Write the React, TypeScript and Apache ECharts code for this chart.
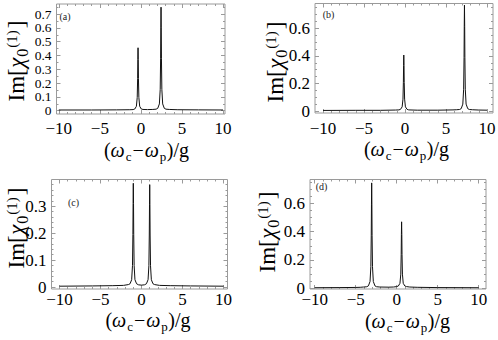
import React, { useEffect, useRef } from 'react';
import * as echarts from 'echarts';

// ---------- data ----------
const xTicks = [-10, -5, 0, 5, 10];
const xMinorTicks = [-9, -8, -7, -6, -4, -3, -2, -1, 1, 2, 3, 4, 6, 7, 8, 9];
const yTicksA = [0, 0.1, 0.2, 0.3, 0.4, 0.5, 0.6, 0.7];
const yTicksB = [0, 0.2, 0.4, 0.6];
const yTicksC = [0, 0.1, 0.2, 0.3];
const yTicksD = [0, 0.2, 0.4, 0.6];
const yMinorA = [0.05, 0.15, 0.25, 0.35, 0.45, 0.55, 0.65, 0.75];
const yMinorB = [0.05, 0.1, 0.15, 0.25, 0.3, 0.35, 0.45, 0.5, 0.55, 0.65, 0.7, 0.75];
const yMinorC = [0.02, 0.04, 0.06, 0.08, 0.12, 0.14, 0.16, 0.18, 0.22, 0.24, 0.26, 0.28, 0.32, 0.34, 0.36, 0.38];
const yMinorD = yMinorB;

const curveA: [number, number][] = [
  [-10, 0.005], [-6, 0.005], [-3, 0.006], [-1.35, 0.007], [-0.95, 0.008], [-0.75, 0.012],
  [-0.55, 0.032], [-0.45, 0.096], [-0.4, 0.233], [-0.375, 0.37], [-0.35, 0.456], [-0.325, 0.37],
  [-0.3, 0.233], [-0.25, 0.096], [-0.15, 0.032], [0.05, 0.012], [0.25, 0.009], [0.8, 0.008],
  [1.45, 0.009], [1.85, 0.011], [2.05, 0.017], [2.25, 0.049], [2.35, 0.155], [2.4, 0.38],
  [2.425, 0.6], [2.45, 0.75], [2.475, 0.6], [2.5, 0.38], [2.55, 0.155], [2.65, 0.049],
  [2.85, 0.017], [3.05, 0.011], [3.45, 0.009], [4.5, 0.007], [7, 0.006], [10, 0.005],
];

const curveB: [number, number][] = [
  [-10, 0.004], [-6, 0.005], [-3, 0.005], [-1.15, 0.007], [-0.75, 0.008], [-0.55, 0.012],
  [-0.35, 0.03], [-0.25, 0.086], [-0.2, 0.208], [-0.175, 0.33], [-0.15, 0.406], [-0.125, 0.33],
  [-0.1, 0.208], [-0.05, 0.086], [0.05, 0.03], [0.25, 0.012], [0.45, 0.008], [1.5, 0.006],
  [4, 0.006], [5.85, 0.008], [6.25, 0.009], [6.65, 0.011], [6.85, 0.017], [7.05, 0.05],
  [7.15, 0.158], [7.2, 0.39], [7.225, 0.615], [7.25, 0.768], [7.275, 0.615], [7.3, 0.39],
  [7.35, 0.158], [7.45, 0.05], [7.65, 0.017], [7.85, 0.011], [8.25, 0.009], [9, 0.007], [10, 0.006],
];

const curveC: [number, number][] = [
  [-10, 0.003], [-6, 0.004], [-3.5, 0.005], [-2.2, 0.006], [-1.6, 0.009], [-1.4, 0.012],
  [-1.2, 0.027], [-1.1, 0.08], [-1.05, 0.195], [-1.025, 0.31], [-1, 0.385], [-0.975, 0.31],
  [-0.95, 0.195], [-0.9, 0.08], [-0.8, 0.027], [-0.6, 0.012], [-0.35, 0.008], [0, 0.007],
  [0.35, 0.008], [0.6, 0.012], [0.8, 0.027], [0.9, 0.079], [0.95, 0.193], [0.975, 0.305],
  [1, 0.38], [1.025, 0.305], [1.05, 0.193], [1.1, 0.079], [1.2, 0.027], [1.4, 0.012],
  [1.6, 0.009], [2.2, 0.006], [3.5, 0.005], [6, 0.004], [10, 0.003],
];

const curveD: [number, number][] = [
  [-10, 0.004], [-7, 0.005], [-5, 0.006], [-4.45, 0.007], [-4.05, 0.009], [-3.65, 0.011],
  [-3.45, 0.017], [-3.25, 0.048], [-3.15, 0.153], [-3.1, 0.375], [-3.075, 0.595], [-3.05, 0.745],
  [-3.025, 0.595], [-3, 0.375], [-2.95, 0.153], [-2.85, 0.048], [-2.65, 0.017], [-2.45, 0.011],
  [-2.05, 0.009], [-1, 0.008], [-0.4, 0.009], [0.0, 0.012], [0.2, 0.016], [0.4, 0.035],
  [0.5, 0.1], [0.55, 0.24], [0.575, 0.38], [0.6, 0.47], [0.625, 0.38], [0.65, 0.24],
  [0.7, 0.1], [0.8, 0.035], [1.0, 0.016], [1.2, 0.012], [1.6, 0.009], [2.5, 0.007], [5, 0.005], [10, 0.004],
];

// ---------- layout ----------
const FONT = 'Liberation Serif';
const FRAME = '#9a9a9a';

type Panel = {
  left: number; top: number; width: number; height: number;
  xMin: number; xMax: number; yMin: number; yMax: number;
  yTicks: number[]; yMinor: number[]; data: [number, number][];
  yLabelSize: number; xLabelY: number;
  tag: string; tagX: number; tagY: number;
  xtX: number; xtY: number; ytX: number; ytY: number;
};

const panels: Panel[] = [
  { left: 56.5, top: 4, width: 168.5, height: 110, xMin: -10.28, xMax: 10.24, yMin: -0.024, yMax: 0.773,
    yTicks: yTicksA, yMinor: yMinorA, data: curveA, yLabelSize: 13.5, xLabelY: 128.5, tag: '(a)', tagX: 65, tagY: 16,
    xtX: 146.5, xtY: 157, ytX: 24, ytY: 61 },
  { left: 315, top: 3.5, width: 178, height: 109.5, xMin: -10.98, xMax: 10.73, yMin: -0.0145, yMax: 0.78,
    yTicks: yTicksB, yMinor: yMinorB, data: curveB, yLabelSize: 17, xLabelY: 128, tag: '(b)', tagX: 328.5, tagY: 14,
    xtX: 406.5, xtY: 156, ytX: 283, ytY: 62 },
  { left: 51.5, top: 179.5, width: 176, height: 109.5, xMin: -10.98, xMax: 10.49, yMin: -0.0074, yMax: 0.399,
    yTicks: yTicksC, yMinor: yMinorC, data: curveC, yLabelSize: 17, xLabelY: 299.5, tag: '(c)', tagX: 73.5, tagY: 202,
    xtX: 148, xtY: 327, ytX: 24, ytY: 228 },
  { left: 310, top: 179.5, width: 176, height: 109.5, xMin: -10.57, xMax: 10.89, yMin: -0.005, yMax: 0.769,
    yTicks: yTicksD, yMinor: yMinorD, data: curveD, yLabelSize: 17, xLabelY: 299.5, tag: '(d)', tagX: 321.5, tagY: 186,
    xtX: 407.5, xtY: 327.5, ytX: 275, ytY: 232 },
];

type Seg = { t: string; size: number; italic?: boolean; dy?: number; gap?: number };

function textStyle(text: string, size: number, italic: boolean, align: string, vAlign: string, fill = '#000', lineHeight?: number) {
  const s: any = {
    text, fontFamily: FONT, fontSize: size, fontStyle: italic ? 'italic' : 'normal', fill,
    textAlign: align, textVerticalAlign: vAlign, align, verticalAlign: vAlign,
  };
  if (lineHeight) s.lineHeight = lineHeight;
  return s;
}

function mathText(segs: Seg[], cx: number, cy: number, rotate: boolean) {
  const canvas = document.createElement('canvas');
  const ctx = canvas.getContext('2d')!;
  let x = 0;
  const children: any[] = [];
  for (const s of segs) {
    x += s.gap || 0;
    ctx.font = `${s.italic ? 'italic ' : ''}${s.size}px ${FONT}`;
    const w = ctx.measureText(s.t).width;
    children.push({
      type: 'text', x, y: (s.dy || 0) - 0.34 * s.size,
      style: textStyle(s.t, s.size, !!s.italic, 'left', 'middle'),
    });
    x += w;
  }
  const total = x;
  children.forEach((c) => { c.x -= total / 2; });
  return { type: 'group', x: cx, y: cy, rotation: rotate ? Math.PI / 2 : 0, children, silent: true };
}

const ySegs: Seg[] = [
  { t: 'Im[', size: 23 },
  { t: 'χ', size: 23, italic: true, gap: 0.5 },
  { t: '0', size: 16, dy: 4, gap: 1 },
  { t: '(1)', size: 15, dy: -7, gap: 1 },
  { t: ']', size: 23, gap: 2 },
];
const xSegs: Seg[] = [
  { t: '(', size: 20 },
  { t: 'ω', size: 20, italic: true },
  { t: 'c', size: 13, dy: 4, gap: 1 },
  { t: '−', size: 20, gap: 1 },
  { t: 'ω', size: 20, italic: true, gap: 1 },
  { t: 'p', size: 13, dy: 4, gap: 1 },
  { t: ')/g', size: 20, gap: 0.5 },
];

const fmtX = (v: number) => (v < 0 ? '\u2212' + Math.abs(v) : String(v));
const fmtY = (v: number) => String(v);

function buildOption() {
  const grid: any[] = [];
  const xAxis: any[] = [];
  const yAxis: any[] = [];
  const series: any[] = [];
  panels.forEach((p, i) => {
    const rect = { left: p.left, top: p.top, width: p.width, height: p.height };
    grid.push({ ...rect, show: true, borderColor: FRAME, borderWidth: 1, backgroundColor: 'transparent', containLabel: false });
    grid.push({ ...rect, show: false, containLabel: false });
    const g0 = 2 * i, g1 = 2 * i + 1;
    const tickStyle = { color: FRAME, width: 1 };
    const baseX = { type: 'value', min: p.xMin, max: p.xMax, splitLine: { show: false }, axisLine: { show: false, onZero: false }, axisLabel: { show: false } };
    const baseY = { type: 'value', min: p.yMin, max: p.yMax, splitLine: { show: false }, axisLine: { show: false, onZero: false }, axisLabel: { show: false } };
    const tick = (len: number, vals: number[]) => ({ show: true, inside: true, length: len, lineStyle: tickStyle, customValues: vals });
    xAxis.push({ ...baseX, gridIndex: g0, position: 'bottom', axisTick: tick(4, xTicks) });
    xAxis.push({ ...baseX, gridIndex: g0, position: 'top', axisTick: tick(4, xTicks) });
    yAxis.push({ ...baseY, gridIndex: g0, position: 'left', axisTick: tick(4, p.yTicks) });
    yAxis.push({ ...baseY, gridIndex: g0, position: 'right', axisTick: tick(4, p.yTicks) });
    xAxis.push({ ...baseX, gridIndex: g1, position: 'bottom', axisTick: tick(2, xMinorTicks) });
    xAxis.push({ ...baseX, gridIndex: g1, position: 'top', axisTick: tick(2, xMinorTicks) });
    yAxis.push({ ...baseY, gridIndex: g1, position: 'left', axisTick: tick(2, p.yMinor) });
    yAxis.push({ ...baseY, gridIndex: g1, position: 'right', axisTick: tick(2, p.yMinor) });
    series.push({
      type: 'line', xAxisIndex: 4 * i, yAxisIndex: 4 * i, data: p.data,
      showSymbol: false, symbol: 'none', smooth: false,
      lineStyle: { color: '#111', width: 1 }, clip: true, silent: true,
    });
  });
  return { animation: false, backgroundColor: '#fff', textStyle: { fontFamily: FONT }, grid, xAxis, yAxis, series };
}

function buildGraphics(chart: echarts.ECharts) {
  const graphic: any[] = [];
  panels.forEach((p, i) => {
    // tick labels positioned through the axes' own scales
    xTicks.forEach((v) => {
      const px = chart.convertToPixel({ xAxisIndex: 4 * i } as any, v) as unknown as number;
      graphic.push({ type: 'text', x: px, y: p.xLabelY, silent: true,
        style: textStyle(fmtX(v), 17, false, 'center', 'middle', '#000', 11) });
    });
    p.yTicks.forEach((v) => {
      const py = chart.convertToPixel({ yAxisIndex: 4 * i } as any, v) as unknown as number;
      graphic.push({ type: 'text', x: p.left - 5, y: py, silent: true,
        style: textStyle(fmtY(v), p.yLabelSize, false, 'right', 'middle', '#000', 11) });
    });
    graphic.push({ type: 'text', x: p.tagX, y: p.tagY, silent: true, style: textStyle(p.tag, 10, false, 'center', 'middle', '#222') });
    graphic.push(mathText(xSegs, p.xtX, p.xtY, false));
    graphic.push(mathText(ySegs, p.ytX, p.ytY, true));
  });
  return graphic;
}

export default function App() {
  const ref = useRef<HTMLDivElement>(null);
  useEffect(() => {
    if (!ref.current) return;
    const chart = echarts.init(ref.current, undefined, { renderer: 'svg' });
    chart.setOption(buildOption() as any);
    chart.setOption({ graphic: buildGraphics(chart) } as any);
    return () => chart.dispose();
  }, []);
  return <div ref={ref} style={{ position: 'fixed', left: 0, top: 0, width: 498, height: 340 }} />;
}
